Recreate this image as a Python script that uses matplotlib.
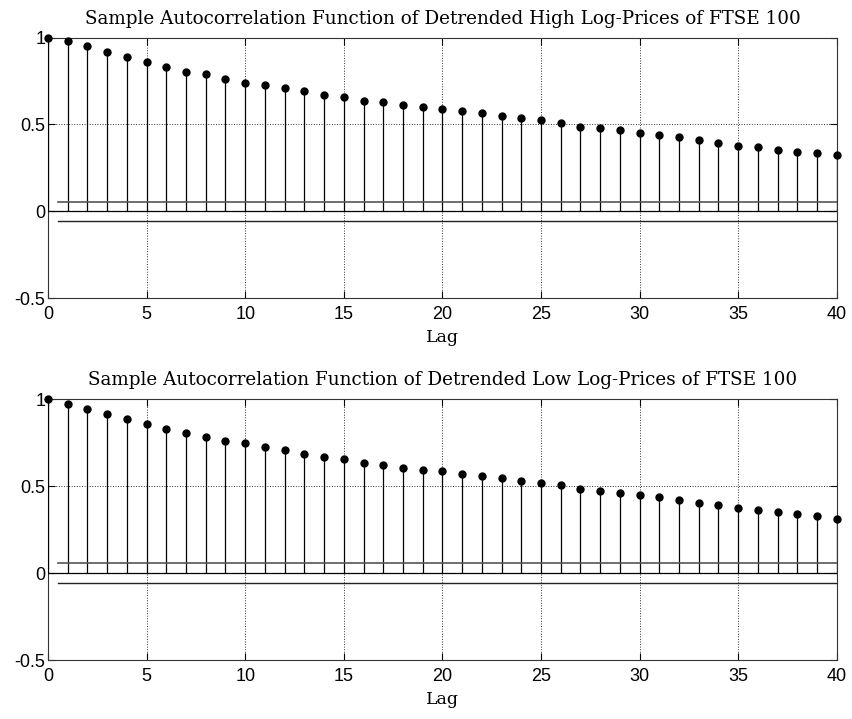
import numpy as np
import matplotlib
matplotlib.use('Agg')
import matplotlib.pyplot as plt

lags = np.arange(0, 41)

acf_high = [1.000, 0.981, 0.950, 0.919, 0.890, 0.859, 0.830, 0.805, 0.788, 0.763,
            0.741, 0.726, 0.708, 0.693, 0.672, 0.658, 0.637, 0.629, 0.614, 0.600,
            0.591, 0.577, 0.566, 0.548, 0.537, 0.525, 0.508, 0.488, 0.479, 0.469,
            0.452, 0.438, 0.425, 0.411, 0.394, 0.378, 0.369, 0.355, 0.344, 0.336,
            0.326]

acf_low = [1.000, 0.973, 0.945, 0.916, 0.885, 0.858, 0.828, 0.805, 0.784, 0.759,
           0.745, 0.724, 0.705, 0.684, 0.669, 0.653, 0.632, 0.619, 0.603, 0.594,
           0.588, 0.569, 0.557, 0.544, 0.529, 0.517, 0.508, 0.485, 0.473, 0.462,
           0.448, 0.439, 0.421, 0.404, 0.389, 0.375, 0.362, 0.349, 0.341, 0.326,
           0.310]

bound_up = 0.055
bound_lo = -0.058

titles = ['Sample Autocorrelation Function of Detrended High Log-Prices of FTSE 100',
          'Sample Autocorrelation Function of Detrended Low Log-Prices of FTSE 100']

serif = ['DejaVu Serif']
plt.rcParams['font.family'] = ['Liberation Sans', 'DejaVu Sans']

fig = plt.figure(figsize=(8.53, 7.19), dpi=100)
ax1 = fig.add_axes([0.0563, 0.5855, 0.9247, 0.3621])
ax2 = fig.add_axes([0.0563, 0.082, 0.9247, 0.363])

for ax, acf, ttl in zip([ax1, ax2], [acf_high, acf_low], titles):
    ax.vlines(lags, 0, acf, colors='black', linewidth=0.9, zorder=3)
    ax.plot(lags, acf, 'o', color='black', markersize=5, zorder=4, clip_on=False)
    ax.axhline(0, color='black', linewidth=0.9, zorder=3)
    ax.plot([0.5, 40], [bound_up, bound_up], color='#555555', linewidth=1.2, zorder=3)
    ax.plot([0.5, 40], [bound_lo, bound_lo], color='#222222', linewidth=1.0, zorder=3)

    ax.set_xlim(0, 40)
    ax.set_ylim(-0.5, 1)
    ax.set_xticks(np.arange(0, 41, 5))
    ax.set_yticks([-0.5, 0, 0.5, 1])
    ax.set_yticklabels(['-0.5', '0', '0.5', '1'])
    ax.tick_params(direction='in', top=True, right=True, labelsize=13, length=5, width=0.8)
    ax.tick_params(axis='x', pad=6)
    ax.tick_params(axis='y', pad=2)
    ax.grid(True, linestyle=':', color='#333333', linewidth=0.7)
    for sp in ax.spines.values():
        sp.set_linewidth(0.8)
        sp.set_color('#333333')
    ax.set_title(ttl, fontsize=13.2, family=serif, pad=10)
    ax.set_xlabel('Lag', fontsize=12.5, family=serif, labelpad=4)

fig.savefig('out.png', dpi=100)
